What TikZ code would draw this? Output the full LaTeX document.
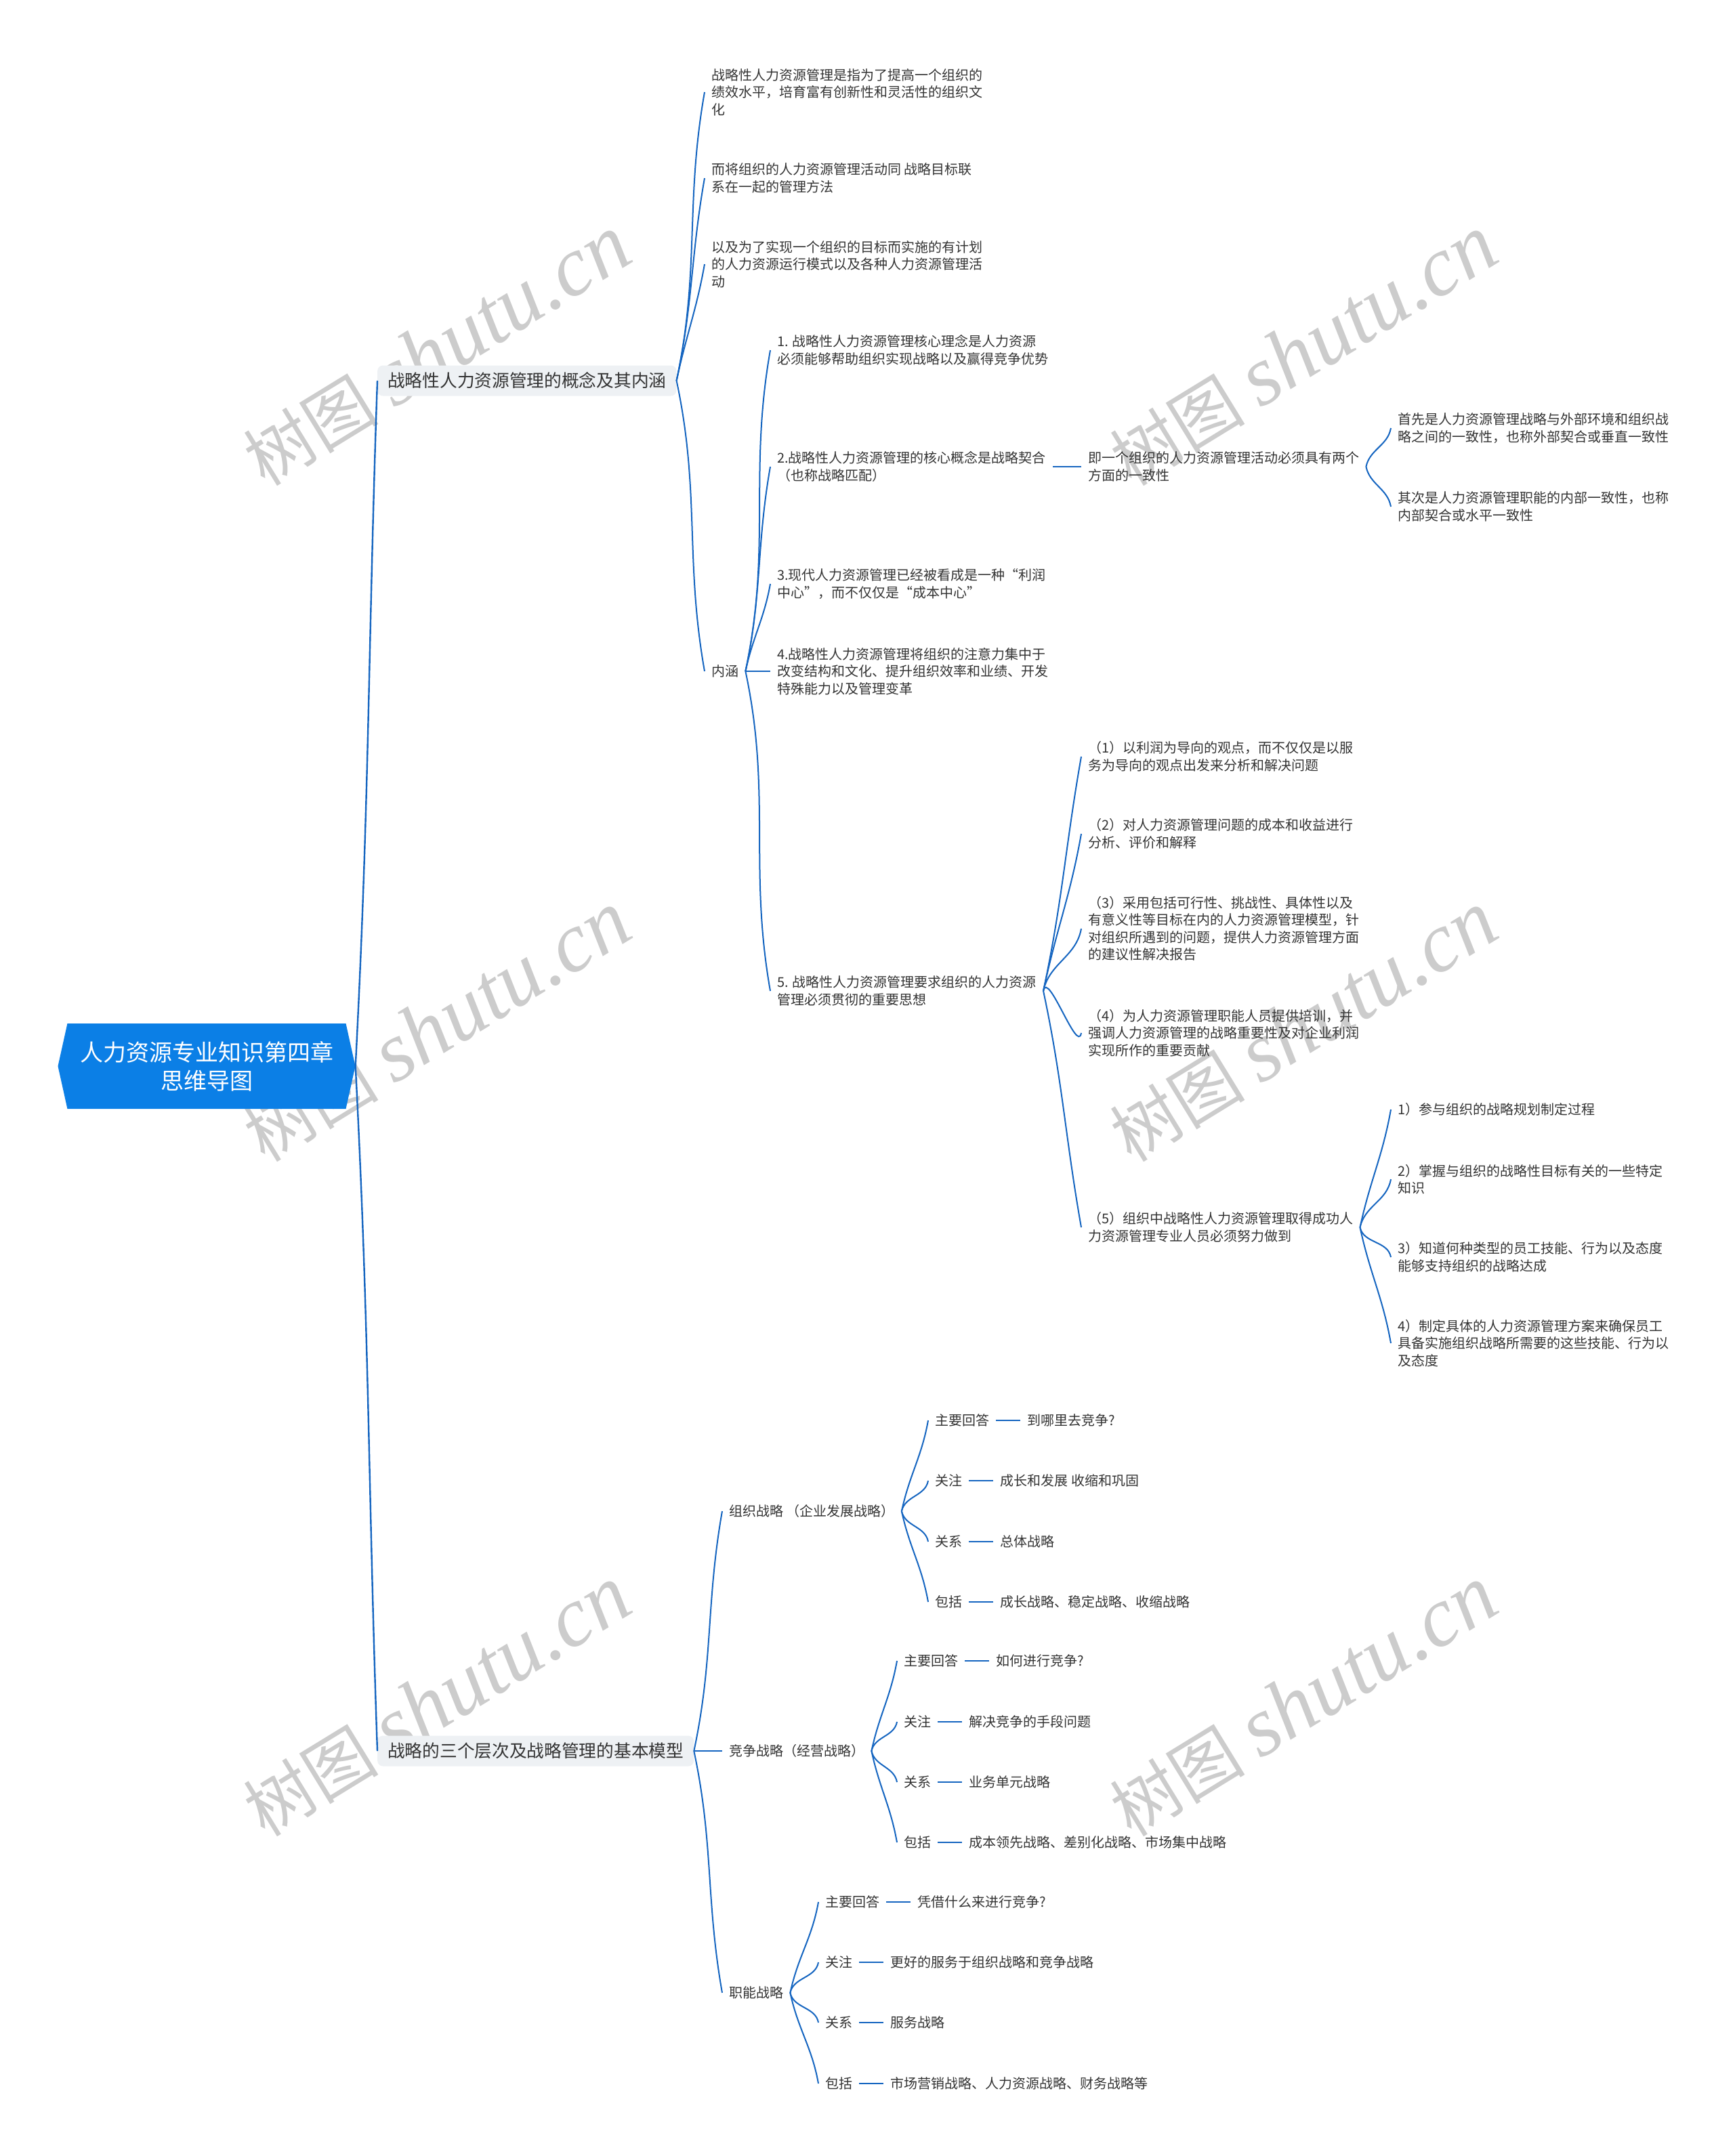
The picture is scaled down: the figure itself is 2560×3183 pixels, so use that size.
\documentclass[tikz,border=0pt]{standalone}
\usepackage{fontspec}
\setmainfont{Noto Sans CJK SC}
\newfontfamily\wmfont{Liberation Serif}
\usepackage{tikz}
\usetikzlibrary{shapes.symbols,positioning}
\definecolor{linkblue}{HTML}{1565C0}
\definecolor{rootblue}{HTML}{0B7FE6}
\definecolor{boxgray}{HTML}{EEF1F4}
\definecolor{txt}{HTML}{333333}

\begin{document}
\begin{tikzpicture}[x=1pt, y=1pt,
  link/.style={draw=linkblue, line width=2pt},
  fanup/.style={out=78, in=-100},
  fandown/.style={out=-78, in=100},
  rootbox/.style={signal, signal to=east and west, signal pointer angle=155, fill=rootblue, text=white, minimum width=439pt, minimum height=126pt, align=center, font=\fontsize{34}{42}\selectfont},
  mainbox/.style={rectangle, rounded corners=8pt, fill=boxgray, minimum height=45pt, inner xsep=15pt, text=txt, anchor=west, font=\fontsize{25.7}{30}\selectfont},
  leaf/.style={anchor=west, inner xsep=10pt, inner ysep=3pt, align=left, text=txt, font=\fontsize{20}{25.5}\selectfont},
  wm/.style={text=gray!40, rotate=31.5, font=\fontsize{100}{110}\selectfont}]
  \useasboundingbox (0,0) rectangle (2560,-3183);

  % watermarks
  \node[wm] (wm1) at (645,-518) {树图 {\wmfont\itshape\fontsize{125}{130}\selectfont shutu.cn}};
  \node[wm] (wm2) at (1924,-518) {树图 {\wmfont\itshape\fontsize{125}{130}\selectfont shutu.cn}};
  \node[wm] (wm3) at (645,-1516) {树图 {\wmfont\itshape\fontsize{125}{130}\selectfont shutu.cn}};
  \node[wm] (wm4) at (1924,-1516) {树图 {\wmfont\itshape\fontsize{125}{130}\selectfont shutu.cn}};
  \node[wm] (wm5) at (645,-2512) {树图 {\wmfont\itshape\fontsize{125}{130}\selectfont shutu.cn}};
  \node[wm] (wm6) at (1924,-2512) {树图 {\wmfont\itshape\fontsize{125}{130}\selectfont shutu.cn}};

  % root and main branches
  \node[rootbox] (root) at (305,-1574) {人力资源专业知识第四章\\思维导图};
  \node[mainbox] (concept) at (557,-562) {战略性人力资源管理的概念及其内涵};
  \node[mainbox] (model) at (557,-2585) {战略的三个层次及战略管理的基本模型};

  % concept branch
  \node[leaf] (def1) at (1040,-136) {战略性人力资源管理是指为了提高一个组织的\\绩效水平，培育富有创新性和灵活性的组织文\\化};
  \node[leaf] (def2) at (1040,-263) {而将组织的人力资源管理活动同 战略目标联\\系在一起的管理方法};
  \node[leaf] (def3) at (1040,-390) {以及为了实现一个组织的目标而实施的有计划\\的人力资源运行模式以及各种人力资源管理活\\动};
  \node[leaf] (neihan) at (1040,-991) {内涵};

  \node[leaf] (core1) at (1137,-517) {1. 战略性人力资源管理核心理念是人力资源\\必须能够帮助组织实现战略以及赢得竞争优势};
  \node[leaf] (core2) at (1137,-689) {2.战略性人力资源管理的核心概念是战略契合\\（也称战略匹配）};
  \node[leaf] (core3) at (1137,-862) {3.现代人力资源管理已经被看成是一种“利润\\中心”，而不仅仅是“成本中心”};
  \node[leaf] (core4) at (1137,-991) {4.战略性人力资源管理将组织的注意力集中于\\改变结构和文化、提升组织效率和业绩、开发\\特殊能力以及管理变革};
  \node[leaf] (core5) at (1137,-1463) {5. 战略性人力资源管理要求组织的人力资源\\管理必须贯彻的重要思想};

  \node[leaf] (fit) at (1596,-689) {即一个组织的人力资源管理活动必须具有两个\\方面的一致性};
  \node[leaf] (fitext) at (2053,-632) {首先是人力资源管理战略与外部环境和组织战\\略之间的一致性，也称外部契合或垂直一致性};
  \node[leaf] (fitint) at (2053,-748) {其次是人力资源管理职能的内部一致性，也称\\内部契合或水平一致性};

  \node[leaf] (idea1) at (1596,-1117) {（1）以利润为导向的观点，而不仅仅是以服\\务为导向的观点出发来分析和解决问题};
  \node[leaf] (idea2) at (1596,-1231) {（2）对人力资源管理问题的成本和收益进行\\分析、评价和解释};
  \node[leaf] (idea3) at (1596,-1371) {（3）采用包括可行性、挑战性、具体性以及\\有意义性等目标在内的人力资源管理模型，针\\对组织所遇到的问题，提供人力资源管理方面\\的建议性解决报告};
  \node[leaf] (idea4) at (1596,-1525) {（4）为人力资源管理职能人员提供培训，并\\强调人力资源管理的战略重要性及对企业利润\\实现所作的重要贡献};
  \node[leaf] (idea5) at (1596,-1812) {（5）组织中战略性人力资源管理取得成功人\\力资源管理专业人员必须努力做到};

  \node[leaf] (task1) at (2053,-1638) {1）参与组织的战略规划制定过程};
  \node[leaf] (task2) at (2053,-1741) {2）掌握与组织的战略性目标有关的一些特定\\知识};
  \node[leaf] (task3) at (2053,-1856) {3）知道何种类型的员工技能、行为以及态度\\能够支持组织的战略达成};
  \node[leaf] (task4) at (2053,-1983) {4）制定具体的人力资源管理方案来确保员工\\具备实施组织战略所需要的这些技能、行为以\\及态度};

  % model branch
  \node[leaf] (orgs) at (1066,-2231) {组织战略 （企业发展战略）};
  \node[leaf] (comps) at (1066,-2585) {竞争战略（经营战略）};
  \node[leaf] (funcs) at (1066,-2942) {职能战略};

  \node[leaf] (orgq) at (1370,-2097) {主要回答};
  \node[leaf] (orgf) at (1370,-2186) {关注};
  \node[leaf] (orgr) at (1370,-2276) {关系};
  \node[leaf] (orgi) at (1370,-2365) {包括};
  \node[leaf, right=36pt of orgq] (orgqv) {到哪里去竞争?};
  \node[leaf, right=36pt of orgf] (orgfv) {成长和发展 收缩和巩固};
  \node[leaf, right=36pt of orgr] (orgrv) {总体战略};
  \node[leaf, right=36pt of orgi] (orgiv) {成长战略、稳定战略、收缩战略};

  \node[leaf] (compq) at (1324,-2452) {主要回答};
  \node[leaf] (compf) at (1324,-2542) {关注};
  \node[leaf] (compr) at (1324,-2631) {关系};
  \node[leaf] (compi) at (1324,-2720) {包括};
  \node[leaf, right=36pt of compq] (compqv) {如何进行竞争?};
  \node[leaf, right=36pt of compf] (compfv) {解决竞争的手段问题};
  \node[leaf, right=36pt of compr] (comprv) {业务单元战略};
  \node[leaf, right=36pt of compi] (compiv) {成本领先战略、差别化战略、市场集中战略};

  \node[leaf] (funcq) at (1208,-2808) {主要回答};
  \node[leaf] (funcf) at (1208,-2897) {关注};
  \node[leaf] (funcr) at (1208,-2986) {关系};
  \node[leaf] (funci) at (1208,-3076) {包括};
  \node[leaf, right=36pt of funcq] (funcqv) {凭借什么来进行竞争?};
  \node[leaf, right=36pt of funcf] (funcfv) {更好的服务于组织战略和竞争战略};
  \node[leaf, right=36pt of funcr] (funcrv) {服务战略};
  \node[leaf, right=36pt of funci] (funciv) {市场营销战略、人力资源战略、财务战略等};

  % connectors
  \draw[link, line width=2.4pt] (root.east) to[out=87, in=-92] (concept.west);
  \draw[link, line width=2.4pt] (root.east) to[out=-87, in=92] (model.west);

  \draw[link] (concept.east) to[fanup] (def1.west);
  \draw[link] (concept.east) to[fanup] (def2.west);
  \draw[link] (concept.east) to[fanup] (def3.west);
  \draw[link] (concept.east) to[fandown] (neihan.west);

  \draw[link] (neihan.east) to[fanup] (core1.west);
  \draw[link] (neihan.east) to[fanup] (core2.west);
  \draw[link] (neihan.east) to[fanup] (core3.west);
  \draw[link] (neihan.east) -- (core4.west);
  \draw[link] (neihan.east) to[fandown] (core5.west);

  \draw[link] (core2.east) -- (fit.west);
  \draw[link] (fit.east) to[fanup] (fitext.west);
  \draw[link] (fit.east) to[fandown] (fitint.west);

  \draw[link] (core5.east) to[fanup] (idea1.west);
  \draw[link] (core5.east) to[fanup] (idea2.west);
  \draw[link] (core5.east) to[fanup] (idea3.west);
  \draw[link] (core5.east) to[fanup] (idea4.west);
  \draw[link] (core5.east) to[fandown] (idea5.west);

  \draw[link] (idea5.east) to[fanup] (task1.west);
  \draw[link] (idea5.east) to[fanup] (task2.west);
  \draw[link] (idea5.east) to[fandown] (task3.west);
  \draw[link] (idea5.east) to[fandown] (task4.west);

  \draw[link] (model.east) to[fanup] (orgs.west);
  \draw[link] (model.east) -- (comps.west);
  \draw[link] (model.east) to[fandown] (funcs.west);

  \draw[link] (orgs.east) to[fanup] (orgq.west);
  \draw[link] (orgs.east) to[fanup] (orgf.west);
  \draw[link] (orgs.east) to[fandown] (orgr.west);
  \draw[link] (orgs.east) to[fandown] (orgi.west);
  \draw[link] (orgq) -- (orgqv);
  \draw[link] (orgf) -- (orgfv);
  \draw[link] (orgr) -- (orgrv);
  \draw[link] (orgi) -- (orgiv);

  \draw[link] (comps.east) to[fanup] (compq.west);
  \draw[link] (comps.east) to[fanup] (compf.west);
  \draw[link] (comps.east) to[fandown] (compr.west);
  \draw[link] (comps.east) to[fandown] (compi.west);
  \draw[link] (compq) -- (compqv);
  \draw[link] (compf) -- (compfv);
  \draw[link] (compr) -- (comprv);
  \draw[link] (compi) -- (compiv);

  \draw[link] (funcs.east) to[fanup] (funcq.west);
  \draw[link] (funcs.east) to[fanup] (funcf.west);
  \draw[link] (funcs.east) to[fandown] (funcr.west);
  \draw[link] (funcs.east) to[fandown] (funci.west);
  \draw[link] (funcq) -- (funcqv);
  \draw[link] (funcf) -- (funcfv);
  \draw[link] (funcr) -- (funcrv);
  \draw[link] (funci) -- (funciv);
\end{tikzpicture}
\end{document}
